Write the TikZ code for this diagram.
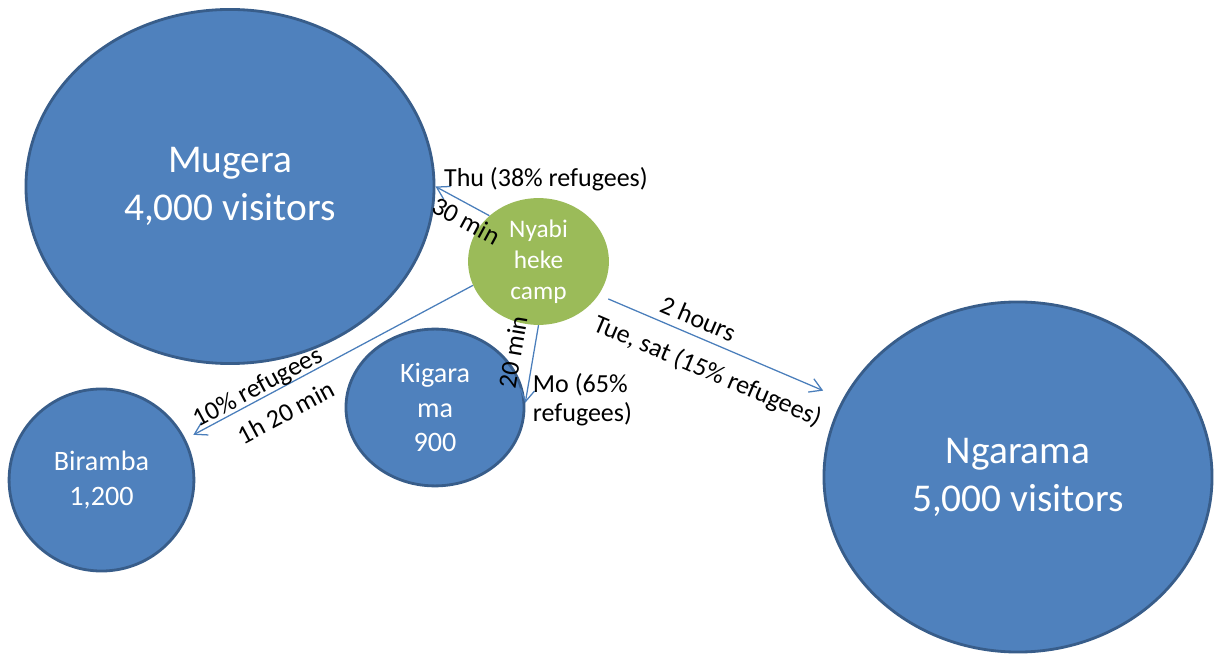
\documentclass[tikz,border=0pt]{standalone}
\usepackage{fontspec}
\setmainfont{Carlito}
\usetikzlibrary{shapes.geometric,arrows.meta}

\definecolor{siteblue}{HTML}{4F81BD}
\definecolor{siteedge}{HTML}{385D8A}
\definecolor{campgreen}{HTML}{9BBB59}
\definecolor{routeblue}{HTML}{4A7EBB}

\tikzset{
  site/.style={ellipse, fill=siteblue, draw=siteedge, line width=2pt, text=white, align=center, inner sep=0pt},
  campsite/.style={ellipse, fill=campgreen, text=white, align=center, inner sep=0pt},
  route/.style={draw=routeblue, line width=0.9pt, -{Straight Barb[length=3mm,width=3.6mm]}},
  lbl/.style={font=\fontsize{18.5}{21}\selectfont, inner sep=0pt, text=black},
}

\begin{document}
\begin{tikzpicture}[x=0.025cm, y=-0.025cm]
	\useasboundingbox (0,0) rectangle (1216,655);
	% villages and the camp
	\node[site, minimum width=10.2cm, minimum height=8.85cm, font=\fontsize{28}{34}\selectfont] (mugera) at (230,186.5) {Mugera\\4,000 visitors};
	\node[campsite, minimum width=3.52cm, minimum height=3.17cm, font=\fontsize{18}{22}\selectfont] (nyabi) at (538.5,261.5) {Nyabi\\heke\\camp};
	\node[site, minimum width=4.45cm, minimum height=3.92cm, font=\fontsize{20}{24.5}\selectfont] (kigarama) at (435,407.5) {Kigara\\ma\\900};
	\node[site, minimum width=4.62cm, minimum height=4.55cm, font=\fontsize{20}{24.5}\selectfont] (biramba) at (101.5,480) {Biramba\\1,200};
	\node[site, minimum width=9.7cm, minimum height=8.75cm, font=\fontsize{28}{34}\selectfont] (ngarama) at (1018,477) {Ngarama\\5,000 visitors};
	% routes
	\draw[route] (nyabi.137) -- node[lbl, sloped, below=4pt, pos=0.29] (lblmin30) {30 min}
		node[lbl, at end, anchor=base west, xshift=5.7pt] (lblthu) {Thu (38\% refugees)} (mugera.east);
	\draw[route, shorten >=0.22cm] (nyabi.200) -- node[lbl, sloped, above=-1pt, pos=0.73] (lblref10) {10\% refugees}
		node[lbl, sloped, below=10pt, pos=0.69] (lblmin80) {1h 20 min} (biramba.26);
	\draw[route] (nyabi.south) -- node[lbl, sloped, above=8pt, pos=0.39] (lblmin20) {20 min}
		node[lbl, at end, anchor=west, align=left, xshift=5pt, yshift=2pt] (lblmo) {Mo (65\%\\refugees)} (kigarama.3);
	\draw[route, shorten <=0.26cm, shorten >=0.53cm] (nyabi.-29) -- node[lbl, sloped, above=5.4pt, pos=0.38] (lblhours) {2 hours}
		node[lbl, sloped, below=11pt, pos=0.49] (lbltue) {Tue, sat (15\% refugees)} (ngarama.156);
\end{tikzpicture}
\end{document}
